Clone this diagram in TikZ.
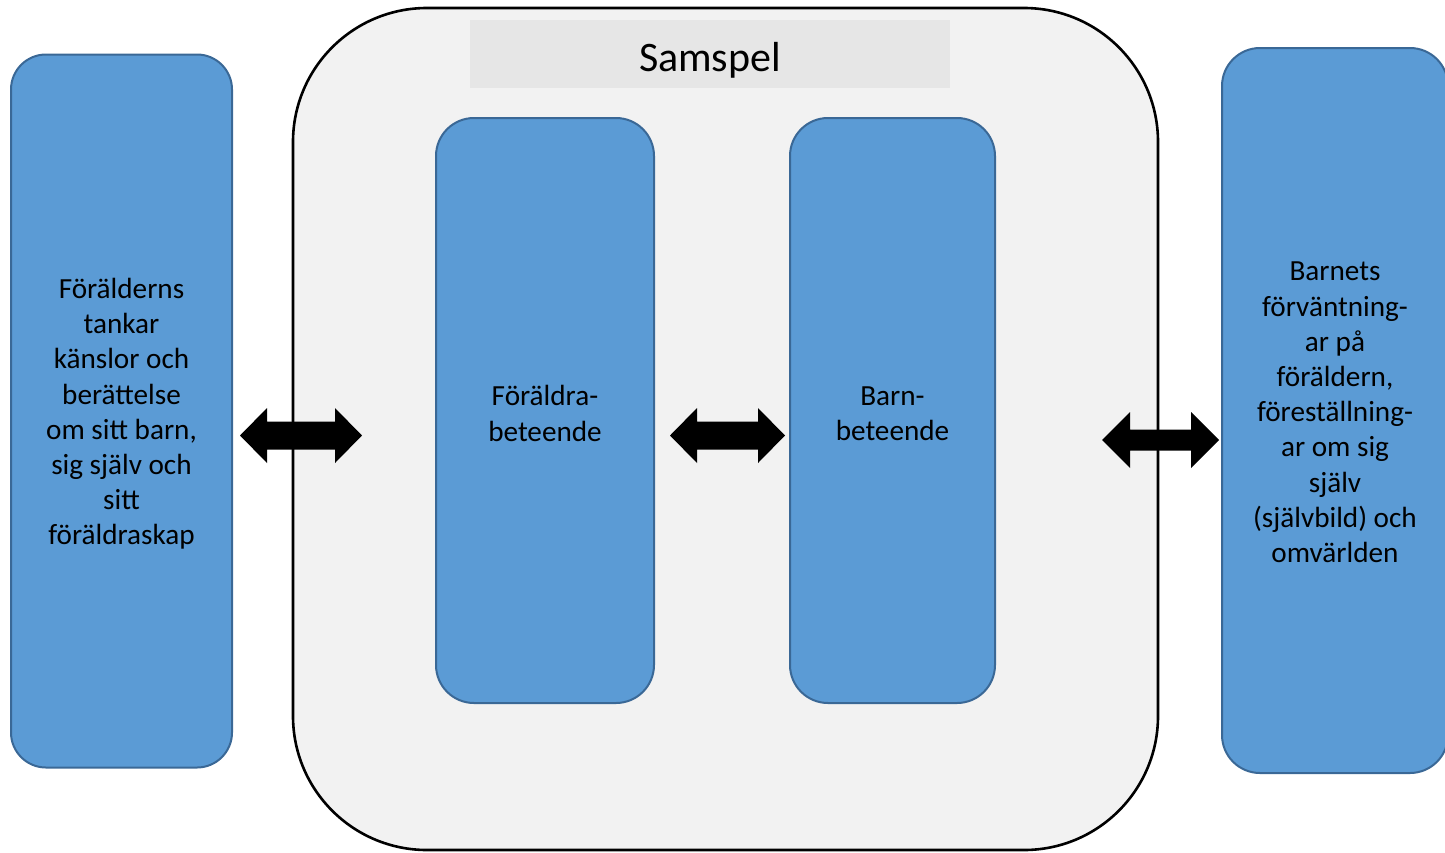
\documentclass[tikz,border=0pt]{standalone}
\usepackage{fontspec}
\setmainfont{Carlito}
\usetikzlibrary{calc}
\definecolor{boxblue}{HTML}{5B9BD5}
\definecolor{boxline}{HTML}{3A6896}
\definecolor{panel}{HTML}{F2F2F2}
\definecolor{headgray}{HTML}{E6E6E6}
\newcommand\dblarrow[6]{% xl, xr, yc, headlen, headhalf, shafthalf
  \fill[black] (#1,#3) -- (#1+#4,#3-#5) -- (#1+#4,#3-#6) -- (#2-#4,#3-#6) -- (#2-#4,#3-#5)
    -- (#2,#3) -- (#2-#4,#3+#5) -- (#2-#4,#3+#6) -- (#1+#4,#3+#6) -- (#1+#4,#3+#5) -- cycle;}
\tikzset{
  bluebox/.style={draw=boxline, line width=1pt, fill=boxblue, rounded corners=19pt, inner sep=0pt},
  boxtext/.style={align=center, font=\fontsize{14.6}{17.6}\selectfont, inner sep=0pt},
  panelbox/.style={draw=black, line width=1.3pt, fill=panel, rounded corners=67pt},
  headbox/.style={fill=headgray, inner sep=0pt},
  headtext/.style={inner sep=0pt, font=\fontsize{21}{25}\selectfont}
}
\begin{document}
\begin{tikzpicture}[x=0.5pt,y=-0.5pt]
\useasboundingbox (0,0) rectangle (1445,852);
\node[panelbox, minimum width=432.5pt, minimum height=421pt] (panel) at (725.5,429) {};
\node[headbox, minimum width=240pt, minimum height=34pt] (head) at (710,54) {};
\node[headtext] (headlabel) at ($(head.center)+(0,6)$) {Samspel};
\node[bluebox, rounded corners=17.5pt, minimum width=110.5pt, minimum height=356.5pt] (left) at (121.5,411) {};
\node[bluebox, minimum width=109pt, minimum height=292.5pt] (parent) at (545,410.5) {};
\node[bluebox, minimum width=102.5pt, minimum height=292.5pt] (child) at (892.5,410.5) {};
\node[bluebox, minimum width=113pt, minimum height=362.5pt] (right) at (1335,410.5) {};
\node[boxtext] (lefttext) at ($(left.center)+(0,3)$)
  {Förälderns\\tankar\\känslor och\\berättelse\\om sitt barn,\\sig själv och\\sitt\\föräldraskap};
\node[boxtext] (parenttext) at ($(parent.center)+(0,3)$) {Föräldra-\\beteende};
\node[boxtext] (childtext) at ($(child.center)+(0,3)$) {Barn-\\beteende};
\node[boxtext] (righttext) at ($(right.center)+(0,2)$)
  {Barnets\\förväntning-\\ar på\\föräldern,\\föreställning-\\ar om sig\\själv\\(självbild) och\\omvärlden};
\dblarrow{240}{362}{435.5}{27}{27.5}{14}
\dblarrow{670}{785}{435.5}{27}{27.5}{14}
\dblarrow{1102}{1219}{440}{28}{28}{10.5}
\end{tikzpicture}
\end{document}
